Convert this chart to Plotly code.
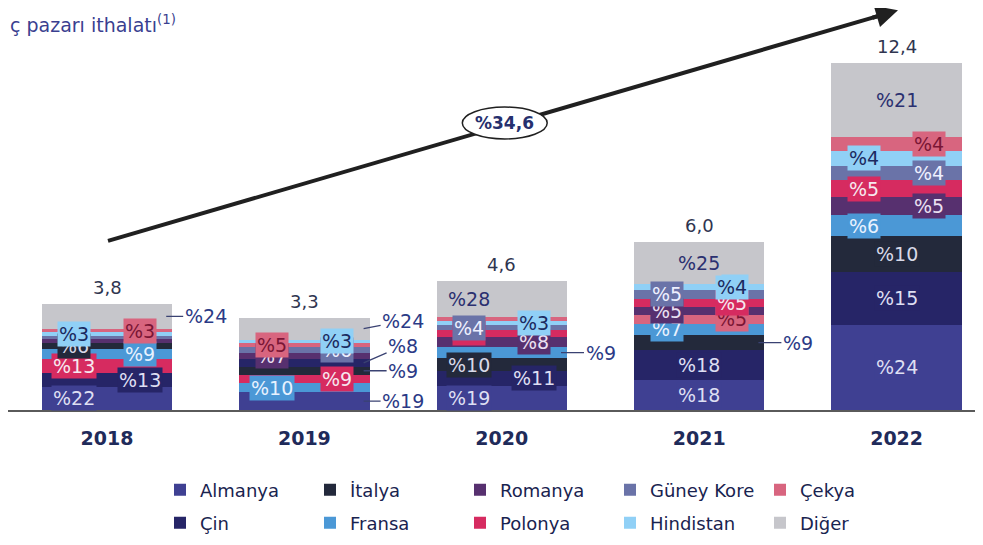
import plotly.graph_objects as go

# ---------------- data ----------------
years = ["2018", "2019", "2020", "2021", "2022"]
totals = [3.8, 3.3, 4.6, 6.0, 12.4]
growth_label = "%34,6"
title_text = "ç pazarı ithalatı<sup>(1)</sup>"

countries = ["Almanya", "Çin", "İtalya", "Fransa", "Romanya",
             "Polonya", "Güney Kore", "Hindistan", "Çekya", "Diğer"]
almanya = [22, 19, 19, 18, 24]
cin = [13, 8, 11, 18, 15]
italya = [6, 9, 10, 9, 10]
fransa = [9, 10, 9, 7, 6]
romanya = [4, 7, 8, 5, 5]
polonya = [13, 9, 5, 5, 5]
guney_kore = [3, 6, 4, 5, 4]
hindistan = [3, 3, 3, 4, 4]
cekya = [3, 5, 3, 5, 4]
diger = [24, 24, 28, 25, 21]

# stacking order (bottom -> top) for each year
stack_2018 = ["Almanya", "Çin", "Polonya", "Fransa", "İtalya", "Romanya", "Güney Kore", "Hindistan", "Çekya", "Diğer"]
stack_2019 = ["Almanya", "Fransa", "Polonya", "İtalya", "Çin", "Romanya", "Güney Kore", "Çekya", "Hindistan", "Diğer"]
stack_2020 = ["Almanya", "Çin", "İtalya", "Fransa", "Romanya", "Polonya", "Güney Kore", "Hindistan", "Çekya", "Diğer"]
stack_2021 = ["Almanya", "Çin", "İtalya", "Fransa", "Çekya", "Romanya", "Polonya", "Güney Kore", "Hindistan", "Diğer"]
stack_2022 = ["Almanya", "Çin", "İtalya", "Fransa", "Romanya", "Polonya", "Güney Kore", "Hindistan", "Çekya", "Diğer"]

# legend rows
legend_row1 = ["Almanya", "İtalya", "Romanya", "Güney Kore", "Çekya"]
legend_row2 = ["Çin", "Fransa", "Polonya", "Hindistan", "Diğer"]

# ---------------- style ----------------
COLORS = {
    "Almanya": "#3f4092", "Çin": "#262567", "İtalya": "#23293b", "Fransa": "#4b98d6",
    "Romanya": "#57306f", "Polonya": "#d62b60", "Güney Kore": "#6a73a8",
    "Hindistan": "#90d0f6", "Çekya": "#d8657f", "Diğer": "#c6c6cb",
}
TEXT_COLORS = {
    "Almanya": "#dedff2", "Çin": "#dedff2", "İtalya": "#d8d9e8", "Fransa": "#e8f2ff",
    "Romanya": "#ebe0f2", "Polonya": "#f6e8ef", "Güney Kore": "#eef0ff",
    "Hindistan": "#1b2a60", "Çekya": "#7a1535", "Diğer": "#2b3070",
}
# label placement: L=left, R=right, C=centre, O=outside, ''=none
SIDES = [
    {"Almanya": "L", "Çin": "R", "Polonya": "L", "Fransa": "R", "İtalya": "L", "Romanya": "",
     "Güney Kore": "", "Hindistan": "L", "Çekya": "R", "Diğer": "O"},
    {"Almanya": "O", "Fransa": "L", "Polonya": "R", "İtalya": "O", "Çin": "O", "Romanya": "L",
     "Güney Kore": "R", "Çekya": "L", "Hindistan": "R", "Diğer": "O"},
    {"Almanya": "L", "Çin": "R", "İtalya": "L", "Fransa": "O", "Romanya": "R", "Polonya": "L",
     "Güney Kore": "L", "Hindistan": "R", "Çekya": "", "Diğer": "L"},
    {"Almanya": "C", "Çin": "C", "İtalya": "O", "Fransa": "L", "Çekya": "R", "Romanya": "L",
     "Polonya": "R", "Güney Kore": "L", "Hindistan": "R", "Diğer": "C"},
    {"Almanya": "C", "Çin": "C", "İtalya": "C", "Fransa": "L", "Romanya": "R", "Polonya": "L",
     "Güney Kore": "R", "Hindistan": "L", "Çekya": "R", "Diğer": "C"},
]
FONT = "DejaVu Sans"
W, H = 975, 537          # page body has an 8px margin
BOTTOM = 135
BAR_W = 0.66
SIDE_DX = 0.165
PX_X = 197.4   # px per x unit
PX_Y = 28.0    # px per y unit
X0_PX = 99     # figure px of first category

share = dict(zip(countries, [almanya, cin, italya, fransa, romanya,
                             polonya, guney_kore, hindistan, cekya, diger]))
stacks = [stack_2018, stack_2019, stack_2020, stack_2021, stack_2022]
n = len(years)
xs = list(range(n))

base = {c: [0.0] * n for c in countries}
height = {c: [0.0] * n for c in countries}
for i in range(n):
    s = sum(share[c][i] for c in countries)
    cum = 0.0
    for c in stacks[i]:
        h = totals[i] * share[c][i] / s
        base[c][i] = cum
        height[c][i] = h
        cum += h

fig = go.Figure()
for rank, c in enumerate(legend_row1 + legend_row2):
    fig.add_trace(go.Bar(
        x=xs, y=height[c], base=base[c], width=BAR_W, name=c,
        marker=dict(color=COLORS[c], line=dict(width=0)),
        legend="legend" if c in legend_row1 else "legend2",
        legendrank=rank, hoverinfo="skip",
    ))

annotations = []
for i in range(n):
    prev = -1e9
    for c in stacks[i]:
        side = SIDES[i].get(c, "")
        if not side:
            continue
        yc = base[c][i] + height[c][i] / 2
        txt = "%" + str(share[c][i])
        if side == "O":
            yl = max(yc, prev + 25 / PX_Y)
            prev = yl
            annotations.append(dict(
                x=i + BAR_W / 2 - 0.03, y=yc, xref="x", yref="y",
                ax=i + 0.50, ay=yl, axref="x", ayref="y",
                text=txt, showarrow=True, arrowhead=0, arrowwidth=1.3,
                arrowcolor="#3a4272", standoff=0,
                font=dict(family=FONT, size=19, color="#2b3a86"),
            ))
        else:
            dx = {"L": -SIDE_DX, "R": SIDE_DX, "C": 0}[side]
            annotations.append(dict(
                x=i + dx, y=yc, xref="x", yref="y", text=txt, showarrow=False,
                bgcolor=COLORS[c], borderpad=1,
                font=dict(family=FONT, size=19, color=TEXT_COLORS[c]),
            ))
    annotations.append(dict(
        x=i, y=totals[i], xref="x", yref="y", text=f"{totals[i]:.1f}".replace(".", ","),
        showarrow=False, yanchor="bottom", yshift=4,
        font=dict(family=FONT, size=18, color="#2f3550"),
    ))

# growth arrow (data coordinates)
tail = (0.005, 6.04)
tip = (4.007, 14.28)
line_end = (tip[0] - 0.958 * 12 / PX_X, tip[1] - 0.287 * 12 / PX_Y)
shapes = [
    dict(type="line", xref="x", yref="y", x0=tail[0], y0=tail[1], x1=line_end[0], y1=line_end[1],
         line=dict(color="#202020", width=4)),
    dict(type="circle", xref="x", yref="y", x0=1.80, x1=2.23, y0=9.68, y1=10.82,
         fillcolor="white", line=dict(color="#202020", width=1.5)),
]
annotations.append(dict(
    x=tip[0], y=tip[1], xref="x", yref="y", ax=-27, ay=8, text="",
    showarrow=True, arrowhead=2, arrowsize=1.1, arrowwidth=4, arrowcolor="#202020",
))
annotations.append(dict(
    x=2.015, y=10.25, xref="x", yref="y", text=f"<b>{growth_label}</b>", showarrow=False,
    font=dict(family=FONT, size=17, color="#26306e"),
))
annotations.append(dict(
    x=0, y=1, xref="paper", yref="paper", xanchor="left", yanchor="top", xshift=0, yshift=-2,
    text=title_text, showarrow=False, font=dict(family=FONT, size=19, color="#3a3f90"),
))

plot_h = H - BOTTOM
legend_common = dict(
    orientation="h", x=152 / W, xanchor="left", yanchor="middle",
    font=dict(family=FONT, size=18, color="#19234f"), traceorder="normal",
    entrywidth=105, entrywidthmode="pixels",
    itemclick=False, itemdoubleclick=False, bgcolor="rgba(0,0,0,0)",
)

fig.update_layout(
    width=W, height=H,
    margin=dict(l=0, r=0, t=0, b=BOTTOM, autoexpand=False),
    paper_bgcolor="white", plot_bgcolor="white",
    barmode="overlay", bargap=0,
    hovermode=False,
    shapes=shapes, annotations=annotations,
    showlegend=True,
    legend=dict(legend_common, y=1 - 482 / plot_h),
    legend2=dict(legend_common, y=1 - 515 / plot_h),
    xaxis=dict(
        range=[-X0_PX / PX_X, (W - X0_PX) / PX_X], tickvals=xs, ticktext=years,
        showgrid=False, zeroline=False,
        showline=True, linecolor="#5a5a5a", linewidth=2, ticks="",
        tickfont=dict(family=FONT, size=19, color="#1f2b5a", weight="bold"),
        ticklabelstandoff=10, fixedrange=True,
    ),
    yaxis=dict(range=[0, plot_h / PX_Y], visible=False, fixedrange=True),
)

fig.write_html("out.html")
